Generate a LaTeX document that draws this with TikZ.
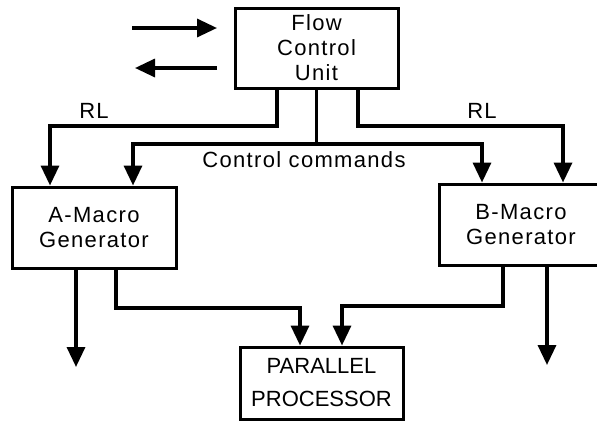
\documentclass[tikz,border=0pt]{standalone}
\usepackage{fontspec}
\setmainfont{Liberation Sans}[LetterSpace=6]
\usetikzlibrary{positioning,arrows.meta}

\begin{document}
\begin{tikzpicture}[x=1pt,y=-1pt,
    font=\fontsize{22}{25}\selectfont,
    block/.style={draw,line width=3pt,align=center,inner sep=0pt},
    wire/.style={line width=3.4pt},
    flow/.style={wire,-{Triangle[length=20pt,width=18pt]}}]
	  \useasboundingbox (0,0) rectangle (597,429);
	  \clip (0,0) rectangle (597,429);
	  % blocks
	  \node (fcu) [block,minimum width=163pt,minimum height=80pt] at (316.5,48) {Flow\\Control\\Unit};
	  \node (amg) [block,minimum width=164pt,minimum height=81pt] at (94,227.5) {A-Macro\\Generator};
	  \node (bmg) [block,minimum width=164pt,minimum height=81pt] at (521,224.5) {B-Macro\\Generator};
	  \node (pp) [block,minimum width=163pt,minimum height=72pt,
	    font=\fontsize{22}{25}\selectfont\addfontfeatures{LetterSpace=0}] at (321.5,383) {PARALLEL\\[8pt]PROCESSOR};
	  % labels
	  \node (rla) at (94,110.5) {RL};
	  \node (rlb) at (482,110.5) {RL};
	  \node (cc) at (304,160) {Control commands};
	  % free ends
	  \coordinate (inl) at (132,28);
	  \coordinate (inr) at (217,28);
	  \coordinate (outr) at (217,68);
	  \coordinate (outl) at (135,68);
	  \coordinate (rlA) at (50,126);
	  \coordinate (rlB) at (563,126);
	  \coordinate (ccA) at (133,144);
	  \coordinate (ccB) at (482,144);
	  \coordinate (jA) at (300,308);
	  \coordinate (jB) at (342,306);
	  \coordinate (aout) at (76,367);
	  \coordinate (bout) at (547,365);
	  % connectors
	  \draw[flow] (inl) -- (inr);
	  \draw[flow] (outr) -- (outl);
	  \draw[flow] ([xshift=-39.5pt]fcu.south) |- (rlA) -- (rlA |- amg.north);
	  \draw[flow] ([xshift=41.5pt]fcu.south) |- (rlB) -- (rlB |- bmg.north);
	  \draw[flow] (fcu.south) |- (ccA) -- (ccA |- amg.north);
	  \draw[flow] (fcu.south) |- (ccB) -- (ccB |- bmg.north);
	  \draw[flow] ([xshift=-18pt]amg.south) -- (aout);
	  \draw[flow] ([xshift=22pt]amg.south) |- (jA) -- (jA |- pp.north);
	  \draw[flow] ([xshift=-18pt]bmg.south) |- (jB) -- (jB |- pp.north);
	  \draw[flow] ([xshift=26pt]bmg.south) -- (bout);
	\end{tikzpicture}
\end{document}
